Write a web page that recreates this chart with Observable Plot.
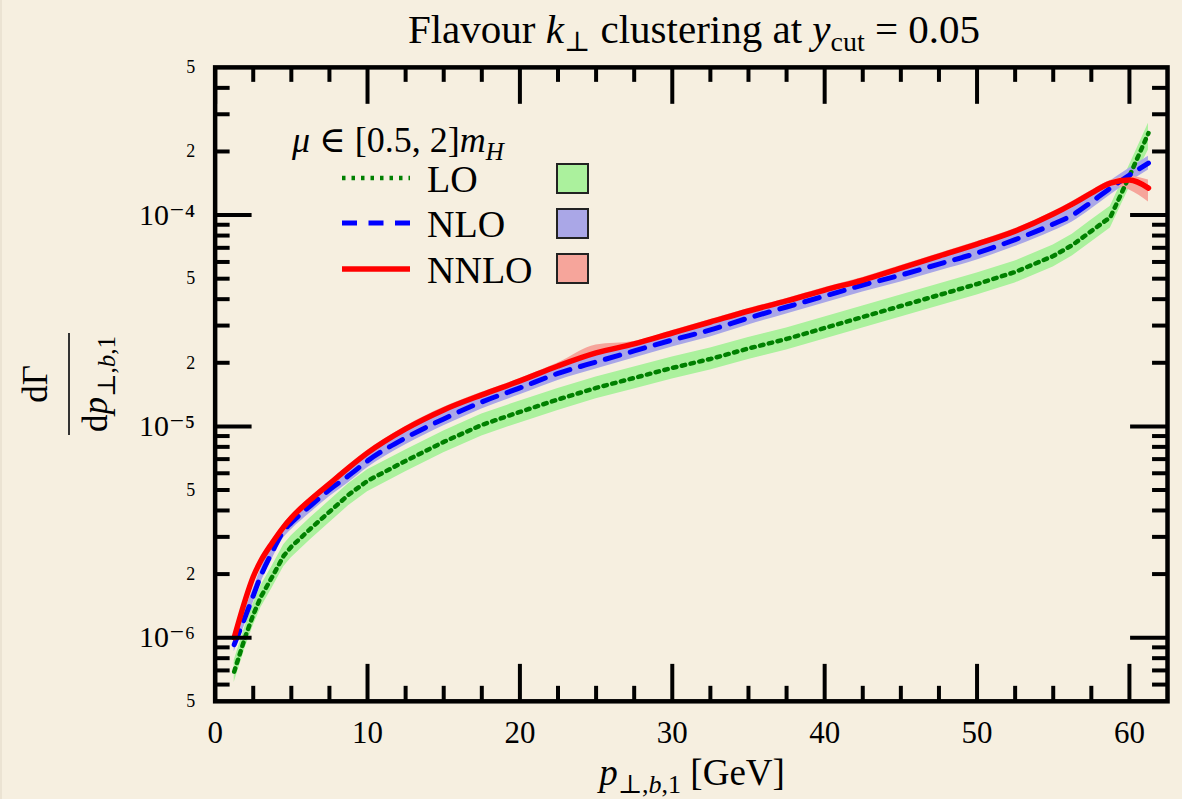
<!DOCTYPE html>
<html><head><meta charset="utf-8">
<script src="https://cdn.jsdelivr.net/npm/d3@7"></script>
<script src="https://cdn.jsdelivr.net/npm/@observablehq/plot@0.6"></script>
<style>
body{margin:0;background:#f6efe0;}
#wrap{position:relative;width:1182px;height:799px;border-left:2px solid #ebe3d3;box-sizing:border-box;}
#wrap svg{position:absolute;left:0;top:0;}
</style>
</head><body><div id="wrap"></div>
<script>
// p_T,b,1 bin positions [GeV]
const pT = [1.25, 2, 2.5, 3, 3.75, 4.5, 5, 6.25, 7.5, 8.75, 10, 12.5, 15, 17.5, 20, 22.5, 25, 27.5, 30, 32.5, 35, 37.5, 40, 42.5, 45, 47.5, 50, 52.5, 55, 56.25, 57.5, 58.75, 60, 61.25];

const loCentral = [6.91e-7, 1.022e-6, 1.284e-6, 1.562e-6, 1.943e-6, 2.442e-6, 2.694e-6, 3.276e-6, 3.942e-6, 4.744e-6, 5.525e-6, 6.867e-6, 8.446e-6, 1.016e-5, 1.171e-5, 1.341e-5, 1.521e-5, 1.696e-5, 1.891e-5, 2.085e-5, 2.337e-5, 2.593e-5, 2.922e-5, 3.294e-5, 3.713e-5, 4.185e-5, 4.718e-5, 5.377e-5, 6.4e-5, 7.21e-5, 8.4e-5, 9.78e-5, 1.529e-4, 2.443e-4];
const loLow = [6.13e-7, 9.07e-7, 1.139e-6, 1.386e-6, 1.724e-6, 2.167e-6, 2.390e-6, 2.907e-6, 3.498e-6, 4.209e-6, 4.902e-6, 6.093e-6, 7.494e-6, 9.015e-6, 1.039e-5, 1.190e-5, 1.350e-5, 1.505e-5, 1.678e-5, 1.850e-5, 2.074e-5, 2.301e-5, 2.593e-5, 2.923e-5, 3.295e-5, 3.713e-5, 4.186e-5, 4.771e-5, 5.679e-5, 6.398e-5, 7.453e-5, 8.678e-5, 1.35e-4, 2.03e-4];
const loHigh = [7.79e-7, 1.152e-6, 1.447e-6, 1.760e-6, 2.190e-6, 2.752e-6, 3.036e-6, 3.692e-6, 4.443e-6, 5.346e-6, 6.227e-6, 7.739e-6, 9.519e-6, 1.145e-5, 1.320e-5, 1.511e-5, 1.714e-5, 1.911e-5, 2.131e-5, 2.350e-5, 2.634e-5, 2.922e-5, 3.293e-5, 3.712e-5, 4.185e-5, 4.716e-5, 5.317e-5, 6.060e-5, 7.213e-5, 8.126e-5, 9.467e-5, 1.102e-4, 1.72e-4, 2.72e-4];

const nloCentral = [9.27e-7, 1.27e-6, 1.579e-6, 1.964e-6, 2.55e-6, 3.204e-6, 3.498e-6, 4.208e-6, 5.009e-6, 5.834e-6, 6.867e-6, 8.822e-6, 1.085e-5, 1.305e-5, 1.521e-5, 1.781e-5, 2.018e-5, 2.275e-5, 2.564e-5, 2.86e-5, 3.258e-5, 3.673e-5, 4.14e-5, 4.667e-5, 5.2e-5, 5.865e-5, 6.613e-5, 7.656e-5, 9.067e-5, 1.0e-4, 1.152e-4, 1.342e-4, 1.546e-4, 1.762e-4];
const nloLow = [8.59e-7, 1.177e-6, 1.463e-6, 1.820e-6, 2.363e-6, 2.969e-6, 3.242e-6, 3.900e-6, 4.642e-6, 5.407e-6, 6.364e-6, 8.176e-6, 1.006e-5, 1.209e-5, 1.410e-5, 1.651e-5, 1.870e-5, 2.108e-5, 2.376e-5, 2.651e-5, 3.019e-5, 3.404e-5, 3.837e-5, 4.325e-5, 4.819e-5, 5.436e-5, 6.129e-5, 7.095e-5, 8.403e-5, 9.268e-5, 1.068e-4, 1.244e-4, 1.433e-4, 1.633e-4];
const nloHigh = [1.0e-6, 1.370e-6, 1.704e-6, 2.119e-6, 2.751e-6, 3.457e-6, 3.774e-6, 4.540e-6, 5.405e-6, 6.295e-6, 7.409e-6, 9.519e-6, 1.171e-5, 1.408e-5, 1.641e-5, 1.922e-5, 2.177e-5, 2.455e-5, 2.767e-5, 3.086e-5, 3.515e-5, 3.963e-5, 4.467e-5, 5.036e-5, 5.611e-5, 6.328e-5, 7.135e-5, 8.261e-5, 9.783e-5, 1.079e-4, 1.243e-4, 1.448e-4, 1.668e-4, 1.901e-4];

const nnloCentral = [1.0e-6, 1.529e-6, 1.943e-6, 2.312e-6, 2.813e-6, 3.347e-6, 3.693e-6, 4.493e-6, 5.347e-6, 6.363e-6, 7.49e-6, 9.731e-6, 1.197e-5, 1.41e-5, 1.641e-5, 1.932e-5, 2.226e-5, 2.455e-5, 2.767e-5, 3.119e-5, 3.517e-5, 3.922e-5, 4.418e-5, 4.928e-5, 5.615e-5, 6.4e-5, 7.29e-5, 8.4e-5, 1.011e-4, 1.127e-4, 1.27e-4, 1.417e-4, 1.464e-4, 1.342e-4];
const nnloLow = [9.73e-7, 1.487e-6, 1.89e-6, 2.249e-6, 2.736e-6, 3.256e-6, 3.592e-6, 4.371e-6, 5.201e-6, 6.19e-6, 7.286e-6, 9.466e-6, 1.164e-5, 1.372e-5, 1.596e-5, 1.879e-5, 2.165e-5, 2.388e-5, 2.692e-5, 3.034e-5, 3.421e-5, 3.815e-5, 4.298e-5, 4.794e-5, 5.462e-5, 6.226e-5, 7.091e-5, 8.17e-5, 9.83e-5, 1.096e-4, 1.235e-4, 1.378e-4, 1.313e-4, 1.152e-4];
const nnloHigh = [1.028e-6, 1.572e-6, 1.997e-6, 2.377e-6, 2.892e-6, 3.441e-6, 3.796e-6, 4.619e-6, 5.497e-6, 6.541e-6, 7.7e-6, 1.0e-5, 1.231e-5, 1.449e-5, 1.687e-5, 1.996e-5, 2.429e-5, 2.524e-5, 2.844e-5, 3.206e-5, 3.615e-5, 4.032e-5, 4.542e-5, 5.066e-5, 5.772e-5, 6.579e-5, 7.494e-5, 8.64e-5, 1.039e-4, 1.159e-4, 1.306e-4, 1.457e-4, 1.528e-4, 1.464e-4];

// ticks and tick labels
const xMajor = [0, 10, 20, 30, 40, 50, 60];
const xMinor = [2.5, 5, 7.5, 12.5, 15, 17.5, 22.5, 25, 27.5, 32.5, 35, 37.5, 42.5, 45, 47.5, 52.5, 55, 57.5];
const yDecades = [1e-6, 1e-5, 1e-4];
const yDecadeLabels = ["10⁻⁶", "10⁻⁵", "10⁻⁴"];
const yLabeledMinor = [5e-7, 2e-6, 5e-6, 2e-5, 5e-5, 2e-4, 5e-4];
const yLabeledMinorText = ["5", "2", "5", "2", "5", "2", "5"];
const yMinor = [6e-7, 7e-7, 8e-7, 9e-7, 2e-6, 3e-6, 4e-6, 5e-6, 6e-6, 7e-6, 8e-6, 9e-6, 2e-5, 3e-5, 4e-5, 5e-5, 6e-5, 7e-5, 8e-5, 9e-5, 2e-4, 3e-4, 4e-4];

const colors = {loBand: "#abf19d", nloBand: "#aaa7e7", nnloBand: "#f6a59b", lo: "#008000", nlo: "#0000ff", nnlo: "#ff0000"};

const rows = pT.map((x, i) => ({
  x, lo: loCentral[i], loLow: loLow[i], loHigh: loHigh[i],
  nlo: nloCentral[i], nloLow: nloLow[i], nloHigh: nloHigh[i],
  nnlo: nnloCentral[i], nnloLow: nnloLow[i], nnloHigh: nnloHigh[i]
}));

const W = 1182, H = 799, mL = 213, mR = 15, mT = 67, mB = 97;
const plotW = W - mL - mR, plotH = H - mT - mB;
const serif = "'Liberation Serif', 'DejaVu Serif', serif";
const majLen = 37, minLen = 15, tickW = 4;

const chart = Plot.plot({
  width: W, height: H,
  marginLeft: mL, marginRight: mR, marginTop: mT, marginBottom: mB,
  style: {background: "transparent", fontFamily: serif, color: "black"},
  x: {domain: [0, 62.5]},
  y: {type: "log", domain: [5e-7, 5e-4]},
  marks: [
    Plot.areaY(rows, {x: "x", y1: "loLow", y2: "loHigh", fill: colors.loBand, curve: "linear"}),
    Plot.areaY(rows, {x: "x", y1: "nloLow", y2: "nloHigh", fill: colors.nloBand, curve: "monotone-x"}),
    Plot.areaY(rows, {x: "x", y1: "nnloLow", y2: "nnloHigh", fill: colors.nnloBand, curve: "monotone-x"}),
    Plot.line(rows, {x: "x", y: "lo", stroke: colors.lo, strokeWidth: 4.5, strokeDasharray: "3.5,5.5", curve: "linear"}),
    Plot.line(rows, {x: "x", y: "nlo", stroke: colors.nlo, strokeWidth: 5, strokeDasharray: "15,11", curve: "monotone-x"}),
    Plot.line(rows, {x: "x", y: "nnlo", stroke: colors.nnlo, strokeWidth: 5.5, curve: "monotone-x"}),
    // inward ticks, bottom and top
    Plot.tickX(xMajor, {x: d => d, stroke: "black", strokeWidth: tickW, insetTop: plotH - majLen}),
    Plot.tickX(xMinor, {x: d => d, stroke: "black", strokeWidth: tickW, insetTop: plotH - minLen}),
    Plot.tickX(xMajor, {x: d => d, stroke: "black", strokeWidth: tickW, insetBottom: plotH - majLen}),
    Plot.tickX(xMinor, {x: d => d, stroke: "black", strokeWidth: tickW, insetBottom: plotH - minLen}),
    // inward ticks, left and right
    Plot.tickY(yDecades, {y: d => d, stroke: "black", strokeWidth: tickW, insetRight: plotW - majLen}),
    Plot.tickY(yMinor, {y: d => d, stroke: "black", strokeWidth: tickW, insetRight: plotW - minLen}),
    Plot.tickY(yDecades, {y: d => d, stroke: "black", strokeWidth: tickW, insetLeft: plotW - majLen}),
    Plot.tickY(yMinor, {y: d => d, stroke: "black", strokeWidth: tickW, insetLeft: plotW - minLen}),
    Plot.frame({stroke: "black", strokeWidth: 4.5}),
    Plot.axisX(xMajor, {anchor: "bottom", tickSize: 0, tickPadding: 20, fontSize: 31, label: null, tickFormat: d => String(d)}),
    Plot.axisY(yDecades, {anchor: "left", tickSize: 0, tickPadding: 20, fontSize: 30, label: null,
      tickFormat: d => yDecadeLabels[yDecades.indexOf(d)]}),
    Plot.axisY(yLabeledMinor, {anchor: "left", tickSize: 0, tickPadding: 20, fontSize: 18, label: null,
      tickFormat: d => yLabeledMinorText[yLabeledMinor.indexOf(d)]})
  ]
});
document.getElementById("wrap").appendChild(chart);

// annotations overlay: title, axis titles, legend
const ns = "http://www.w3.org/2000/svg";
const ov = document.createElementNS(ns, "svg");
ov.setAttribute("width", W); ov.setAttribute("height", H);
ov.setAttribute("font-family", serif);
ov.innerHTML = `
  <text x="692" y="43" font-size="41" text-anchor="middle">Flavour <tspan font-style="italic">k</tspan><tspan dy="8" font-size="28">⊥</tspan><tspan dy="-8"> clustering at </tspan><tspan font-style="italic">y</tspan><tspan dy="8" font-size="28">cut</tspan><tspan dy="-8"> = 0.05</tspan></text>
  <text x="690" y="785" font-size="37" text-anchor="middle"><tspan font-style="italic">p</tspan><tspan dy="8" font-size="26">⊥,<tspan font-style="italic">b</tspan>,1</tspan><tspan dy="-8"> [GeV]</tspan></text>
  <g transform="translate(67,384) rotate(-90)">
    <text x="0" y="-22" font-size="35" text-anchor="middle">dΓ</text>
    <line x1="-51" x2="51" y1="0" y2="0" stroke="#333" stroke-width="2"/>
    <text x="0" y="38" font-size="35" text-anchor="middle">d<tspan font-style="italic">p</tspan><tspan dy="8" font-size="25">⊥,<tspan font-style="italic">b</tspan>,1</tspan></text>
  </g>
  <text x="290" y="152" font-size="36"><tspan font-style="italic">μ</tspan> ∈ [0.5, 2]<tspan font-style="italic">m</tspan><tspan dy="8" font-size="25" font-style="italic">H</tspan></text>
  <line x1="340" x2="408" y1="178" y2="178" stroke="${colors.lo}" stroke-width="4.5" stroke-dasharray="3.5,6"/>
  <line x1="340" x2="408" y1="223" y2="223" stroke="${colors.nlo}" stroke-width="5" stroke-dasharray="15,11.5"/>
  <line x1="340" x2="408" y1="269" y2="269" stroke="${colors.nnlo}" stroke-width="5.5"/>
  <text x="425" y="192" font-size="38">LO</text>
  <text x="425" y="237" font-size="38">NLO</text>
  <text x="425" y="283" font-size="38">NNLO</text>
  <rect x="555" y="164" width="31" height="29" fill="${colors.loBand}" stroke="#222" stroke-width="2"/>
  <rect x="555" y="209" width="31" height="29" fill="${colors.nloBand}" stroke="#222" stroke-width="2"/>
  <rect x="555" y="254" width="31" height="29" fill="${colors.nnloBand}" stroke="#222" stroke-width="2"/>
`;
document.getElementById("wrap").appendChild(ov);
</script>
</body></html>
